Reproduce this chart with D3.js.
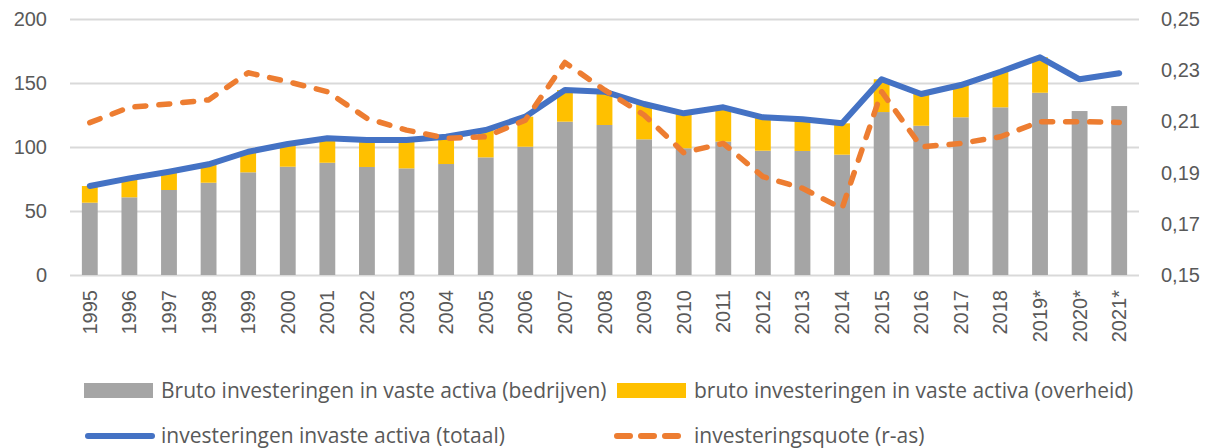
<!DOCTYPE html>
<html>
<head>
<meta charset="utf-8">
<script src="https://cdn.jsdelivr.net/npm/d3@7"></script>
<style>
	html, body { margin: 0; padding: 0; background: #fff; }
	svg { display: block; font-family: 'Open Sans', sans-serif; }
	.tick-label { fill: #595959; font-size: 20px; }
	.legend-label { fill: #595959; font-size: 21px; }
</style>
</head>
<body>
<svg id="viz-invest" width="1216" height="448"></svg>
<script>

// Years on the x axis (last three are estimates).
var years = [ '1995', '1996', '1997', '1998', '1999', '2000', '2001', '2002', '2003', '2004',
	'2005', '2006', '2007', '2008', '2009', '2010', '2011', '2012', '2013', '2014',
	'2015', '2016', '2017', '2018', '2019*', '2020*', '2021*' ];

// Gross fixed investment, companies.
var bedrijven = [ 56.5, 60.7, 66.4, 72.1, 80.2, 84.6, 87.7, 84.4, 83.3, 86.7,
	91.9, 100.2, 119.8, 117.2, 106, 99, 104.2, 97.1, 96.9, 94,
	127.3, 116.6, 123.2, 131, 142.4, 128.1, 132 ];

// Gross fixed investment, government.
var overheid = [ 13, 14.8, 14.3, 14.4, 16.1, 17.7, 19.1, 21.1, 22.2, 21.3,
	21.4, 23.5, 24.7, 26, 27.6, 27.3, 26.8, 26.1, 24.7, 24.5,
	25.6, 24.8, 25.2, 27.8, 27.7, 0, 0 ];

// Total investment (line).
var totaal = [ 69.5, 75.5, 80.7, 86.5, 96.3, 102.3, 106.8, 105.5, 105.5, 108,
	113.3, 123.7, 144.5, 143.2, 133.6, 126.3, 131, 123.2, 121.6, 118.5,
	152.9, 141.4, 148.4, 158.8, 170.1, 152.9, 157.6 ];

// Investment ratio, right axis.
var quote = [ 0.2095, 0.2155, 0.2168, 0.2184, 0.229, 0.2255, 0.2216, 0.2112, 0.2066, 0.2034,
	0.204, 0.2105, 0.233, 0.2223, 0.2125, 0.1978, 0.2014, 0.1884, 0.1839, 0.176,
	0.2216, 0.2001, 0.2014, 0.204, 0.2099, 0.2099, 0.2096 ];

var leftTicks = [ 0, 50, 100, 150, 200 ];
var rightTicks = [ 0.15, 0.17, 0.19, 0.21, 0.23, 0.25 ];

var legendItems = [
	{ label: 'Bruto investeringen in vaste activa (bedrijven)', type: 'bar', color: '#a5a5a5' },
	{ label: 'bruto investeringen in vaste activa (overheid)', type: 'bar', color: '#ffc000' },
	{ label: 'investeringen invaste activa (totaal)', type: 'line', color: '#4472c4' },
	{ label: 'investeringsquote (r-as)', type: 'dash', color: '#ed7d31' }
];

window.investViz = {

	_margin: { top: 19, right: 77, bottom: 173, left: 70 },

	_bindSvg: function () {
		this._svg = d3.select( '#viz-invest' );
		this._width = +this._svg.attr( 'width' ) - this._margin.left - this._margin.right;
		this._height = +this._svg.attr( 'height' ) - this._margin.top - this._margin.bottom;
		this._g = this._svg.append( 'g' )
			.attr( 'transform', 'translate(' + this._margin.left + ',' + this._margin.top + ')' );
	},

	_setScales: function () {
		this._x = d3.scaleBand().domain( years ).range( [ 0, this._width ] ).paddingInner( 0.6 ).paddingOuter( 0.3 );
		this._y = d3.scaleLinear().domain( [ 0, 200 ] ).range( [ this._height, 0 ] );
		this._y2 = d3.scaleLinear().domain( [ 0.15, 0.25 ] ).range( [ this._height, 0 ] );
	},

	_drawAxes: function () {
		var w = this._width;

		// Gridlines follow the left axis only.
		var left = this._g.append( 'g' )
			.call( d3.axisLeft( this._y ).tickValues( leftTicks ).tickSize( -w ).tickPadding( 23 ) );
		left.select( '.domain' ).remove();
		left.selectAll( '.tick line' ).attr( 'stroke', '#d9d9d9' ).attr( 'stroke-width', 2 );
		left.selectAll( '.tick text' ).attr( 'class', 'tick-label' ).attr( 'fill', null );

		var right = this._g.append( 'g' )
			.attr( 'transform', 'translate(' + w + ',0)' )
			.call( d3.axisRight( this._y2 ).tickValues( rightTicks ).tickSize( 0 ).tickPadding( 22 )
				.tickFormat( function ( d ) { return d3.format( '.2f' )( d ).replace( '.', ',' ); } ) );
		right.select( '.domain' ).remove();
		right.selectAll( '.tick text' ).attr( 'class', 'tick-label' ).attr( 'fill', null );

		var bottom = this._g.append( 'g' )
			.attr( 'transform', 'translate(0,' + this._height + ')' )
			.call( d3.axisBottom( this._x ).tickSize( 0 ).tickPadding( 0 ) );
		bottom.select( '.domain' ).remove();
		bottom.selectAll( '.tick text' )
			.attr( 'class', 'tick-label' )
			.attr( 'fill', null )
			.attr( 'text-anchor', 'end' )
			.attr( 'transform', 'rotate(-90)' )
			.attr( 'x', -15 )
			.attr( 'y', 0 )
			.attr( 'dy', '0.35em' );
	},

	_drawBars: function () {
		var x = this._x, y = this._y;
		var rows = years.map( function ( yr, i ) {
			return { year: yr, b: bedrijven[i], o: overheid[i] };
		} );

		this._g.append( 'g' ).selectAll( 'rect' )
			.data( rows ).enter().append( 'rect' )
			.attr( 'x', function ( d ) { return x( d.year ); } )
			.attr( 'width', x.bandwidth() )
			.attr( 'y', function ( d ) { return y( d.b ); } )
			.attr( 'height', function ( d ) { return y( 0 ) - y( d.b ); } )
			.attr( 'fill', '#a5a5a5' );

		this._g.append( 'g' ).selectAll( 'rect' )
			.data( rows.filter( function ( d ) { return d.o > 0; } ) ).enter().append( 'rect' )
			.attr( 'x', function ( d ) { return x( d.year ); } )
			.attr( 'width', x.bandwidth() )
			.attr( 'y', function ( d ) { return y( d.b + d.o ); } )
			.attr( 'height', function ( d ) { return y( d.b ) - y( d.b + d.o ); } )
			.attr( 'fill', '#ffc000' );
	},

	_drawLines: function () {
		var x = this._x, half = this._x.bandwidth() / 2;
		var y = this._y, y2 = this._y2;

		var total = d3.line()
			.x( function ( d, i ) { return x( years[i] ) + half; } )
			.y( function ( d ) { return y( d ); } );

		var ratio = d3.line()
			.x( function ( d, i ) { return x( years[i] ) + half; } )
			.y( function ( d ) { return y2( d ); } );

		this._g.append( 'path' )
			.attr( 'd', total( totaal ) )
			.attr( 'fill', 'none' )
			.attr( 'stroke', '#4472c4' )
			.attr( 'stroke-width', 6 )
			.attr( 'stroke-linecap', 'round' )
			.attr( 'stroke-linejoin', 'round' );

		this._g.append( 'path' )
			.attr( 'd', ratio( quote ) )
			.attr( 'fill', 'none' )
			.attr( 'stroke', '#ed7d31' )
			.attr( 'stroke-width', 5.5 )
			.attr( 'stroke-dasharray', '11,13' )
			.attr( 'stroke-linecap', 'round' )
			.attr( 'stroke-linejoin', 'round' );
	},

	_drawLegend: function () {
		var cols = [ 84, 617 ], rows = [ 390.5, 436 ];

		var items = this._svg.append( 'g' ).selectAll( 'g' )
			.data( legendItems ).enter().append( 'g' )
			.attr( 'transform', function ( d, i ) {
				return 'translate(' + cols[i % 2] + ',' + rows[Math.floor( i / 2 )] + ')';
			} );

		items.filter( function ( d ) { return d.type === 'bar'; } ).append( 'rect' )
			.attr( 'x', 0 ).attr( 'y', -7.5 )
			.attr( 'width', 69 ).attr( 'height', 15 )
			.attr( 'fill', function ( d ) { return d.color; } );

		items.filter( function ( d ) { return d.type === 'line'; } ).append( 'line' )
			.attr( 'x1', 4 ).attr( 'x2', 68 )
			.attr( 'stroke', function ( d ) { return d.color; } )
			.attr( 'stroke-width', 6 )
			.attr( 'stroke-linecap', 'round' );

		items.filter( function ( d ) { return d.type === 'dash'; } ).append( 'line' )
			.attr( 'x1', 0 ).attr( 'x2', 61 )
			.attr( 'stroke', function ( d ) { return d.color; } )
			.attr( 'stroke-width', 6 )
			.attr( 'stroke-dasharray', '13,11' )
			.attr( 'stroke-linecap', 'round' );

		items.append( 'text' )
			.attr( 'class', 'legend-label' )
			.attr( 'x', 77 )
			.attr( 'dy', '0.35em' )
			.text( function ( d ) { return d.label; } );
	},

	on: function () {
		this._bindSvg();
		this._setScales();
		this._drawAxes();
		this._drawBars();
		this._drawLines();
		this._drawLegend();
	}

};

window.investViz.on();
</script>
</body>
</html>
